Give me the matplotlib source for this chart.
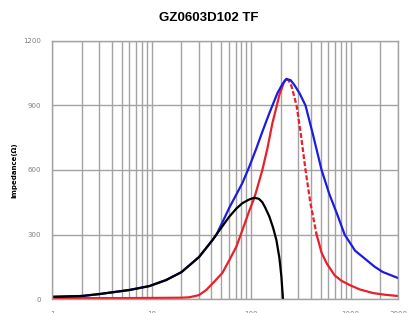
import numpy as np
import matplotlib
matplotlib.use("Agg")
import matplotlib.pyplot as plt
from matplotlib.ticker import FixedLocator, NullFormatter

# impedance curves (frequency in MHz, impedance in ohm)
z_freq = [1, 2, 3, 6, 9.5, 14, 20, 30, 41, 45, 52, 61, 71, 82, 96, 113, 130,
          153, 184, 207, 227, 250, 273, 309, 353, 417, 512, 610, 740, 872,
          1110, 1450, 1750, 2100, 2980]
z_vals = [10, 14, 23, 42, 60, 88, 125, 195, 274, 300, 360, 428, 485, 540, 615,
          700, 778, 865, 957, 1000, 1023, 1018, 995, 955, 900, 769, 600, 490,
          390, 300, 225, 181, 150, 126, 98]

r_freq = [1, 5, 10, 20, 24, 30, 35.5, 42.6, 51.5, 60.6, 71, 82, 96, 108, 130,
          146, 164, 184, 193, 217, 227, 238, 255, 287, 316, 353, 394, 456,
          512, 574, 692, 810, 980, 1230, 1670, 2200, 2980]
r_vals = [4, 4, 5, 6, 8, 18, 42, 80, 121, 181, 242, 321, 410, 470, 600,
          700, 818, 910, 950, 1015, 1023, 1018, 990, 900, 770, 600, 450, 300,
          215, 167, 110, 85, 65, 45, 28, 20, 14]

x_freq = [1, 2, 3, 6, 9.5, 14, 20, 30, 41, 60, 71, 82, 96, 108, 120, 130, 139,
          153, 167, 180, 193, 202, 211]
x_vals = [10, 14, 23, 42, 60, 88, 125, 195, 274, 381, 420, 446, 463, 471,
          466, 450, 425, 383, 330, 274, 190, 104, -20]

x_ticks = [1, 10, 100, 1000, 3000]
y_ticks = [0, 300, 600, 900, 1200]

grid_col = "#a3a3a3"

fig = plt.figure(figsize=(4.08, 3.13), dpi=100)
ax = fig.add_axes([52 / 408, 1 - 299 / 313, 346 / 408, 258 / 313])

ax.set_xscale("log")
ax.set_xlim(1, 3000)
ax.set_ylim(0, 1200)

# red R curve: solid rising side, dashed falling side, solid tail
i_pk = r_freq.index(227)
i_end = r_freq.index(456)
ax.plot(r_freq[:i_pk + 1], r_vals[:i_pk + 1], color="#e8202a", lw=1.6)
ax.plot(r_freq[i_pk:i_end + 1], r_vals[i_pk:i_end + 1], color="#e8202a",
        lw=1.6, dashes=(2.2, 1.0))
ax.plot(r_freq[i_end:], r_vals[i_end:], color="#e8202a", lw=1.6)
ax.plot(z_freq, z_vals, color="#1c1ce0", lw=1.6)
ax.plot(x_freq, x_vals, color="black", lw=1.6)

# log grid: every 1..9 of each decade
minor = [m * 10 ** d for d in range(4) for m in range(1, 10) if m * 10 ** d <= 3000]
ax.xaxis.set_major_locator(FixedLocator(x_ticks))
ax.xaxis.set_minor_locator(FixedLocator(minor))
ax.xaxis.set_minor_formatter(NullFormatter())
ax.set_xticklabels([str(t) for t in x_ticks])
ax.set_yticks(y_ticks)
ax.grid(True, which="both", axis="x", color=grid_col, lw=1.0)
ax.grid(True, which="major", axis="y", color=grid_col, lw=1.0)
ax.set_axisbelow(True)

ax.tick_params(axis="both", which="both", length=0, labelsize=5, labelcolor="#808080")
ax.tick_params(axis="y", pad=8)
ax.tick_params(axis="x", pad=9)
for s in ax.spines.values():
    s.set_color(grid_col)
    s.set_linewidth(1.0)

ax.set_ylabel("Impedance(Ω)", fontsize=5, fontweight="bold", labelpad=4)

fig.text(209 / 408, 1 - 18 / 313, "GZ0603D102 TF", ha="center", va="center",
         fontsize=9.5, fontweight="bold", family="Liberation Sans")

fig.savefig("out.png", dpi=100)
